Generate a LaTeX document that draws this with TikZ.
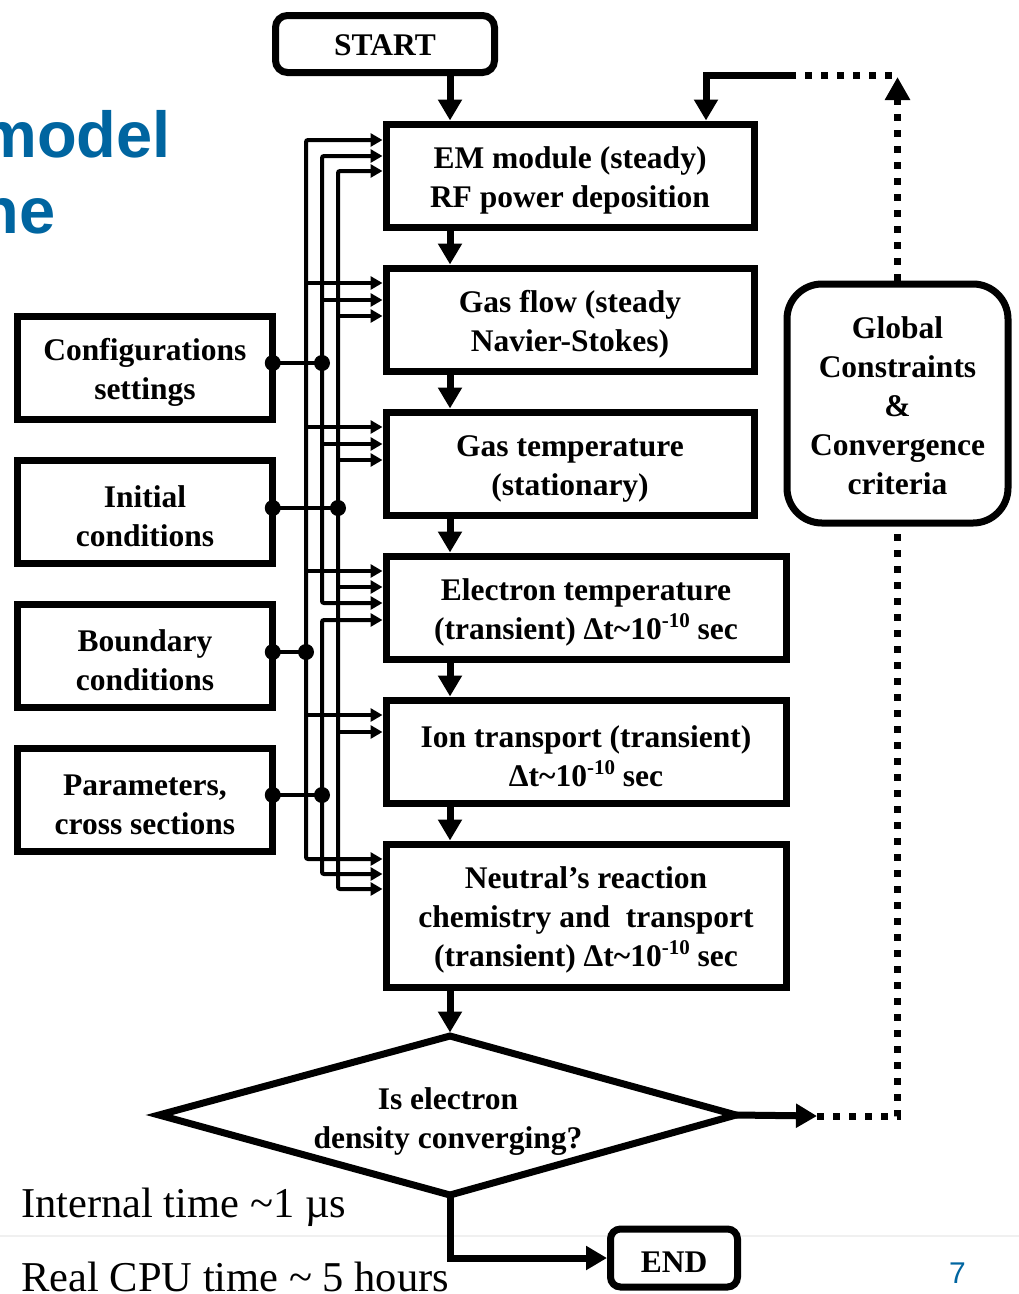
\documentclass[tikz,border=0pt]{standalone}
\usepackage{fontspec}
\setmainfont{Liberation Serif}
\newfontfamily\arialfont{Liberation Sans}
\usetikzlibrary{arrows.meta}
\definecolor{titleblue}{RGB}{0,101,160}
\newcommand\supten{\raisebox{12pt}{\fontsize{21}{21}\selectfont -10}}
\begin{document}
\begin{tikzpicture}[x=1pt,y=-1pt,
  boxfont/.style={font=\fontsize{31.5}{39}\selectfont\bfseries},
  txt/.style={boxfont,align=center,inner sep=0pt},
  box/.style={draw,line width=7pt,fill=white,inner sep=0pt},
  mainbox/.style={box,minimum width=368pt,minimum height=103pt},
  widebox/.style={box,minimum width=400pt,minimum height=103pt},
  lbox/.style={box,outer sep=0pt,minimum width=255.5pt,minimum height=103pt},
  flow/.style={line width=7pt,-{Triangle[length=21pt,width=23pt]}},
  dotline/.style={line width=7pt,dash pattern=on 7pt off 9pt},
  bus/.style={line width=4pt,rounded corners=2pt},
  busarr/.style={bus,-{Triangle[length=12pt,width=13pt]}},
  bustwo/.style={bus,{Triangle[length=12pt,width=13pt]}-{Triangle[length=12pt,width=13pt]}},
  dotn/.style={circle,fill,inner sep=0pt,minimum size=16pt}
]
\useasboundingbox (0,0) rectangle (1019,1294);
\clip (0,0) rectangle (1019,1294);

% faint slide separator
\draw[black!6,line width=2pt] (0,1236) -- (1019,1236);

% title fragments and page number
\node[anchor=base east,inner sep=0pt,text=titleblue,font=\arialfont\bfseries\fontsize{65}{65}\selectfont] (t1) at (171,157) {model};
\node[anchor=base east,inner sep=0pt,text=titleblue,font=\arialfont\bfseries\fontsize{65}{65}\selectfont] (t2) at (56,233) {ne};
\node[anchor=base,inner sep=0pt,text=titleblue,font=\arialfont\fontsize{30}{30}\selectfont] (pg) at (957.5,1283) {7};

% bottom texts
\node[anchor=base west,inner sep=0pt,font=\fontsize{42.5}{50}\selectfont] (it) at (21,1217) {Internal time \textasciitilde1 µs};
\node[anchor=base west,inner sep=0pt,font=\fontsize{42.5}{50}\selectfont] (rc) at (21,1291) {Real CPU time \textasciitilde{} 5 hours};

% main column
\node[box,rounded corners=12pt,minimum width=219pt,minimum height=57pt] (start) at (385,44) {};
\node[txt] (starttx) at ([yshift=-1pt]start.center) {START};
\node[mainbox] (em) at (570,175.5) {};
\node[txt] (emtx) at ([yshift=-5pt]em.center) {EM module (steady)\\RF power deposition};
\node[mainbox] (gf) at (570,319.5) {};
\node[txt] (gftx) at ([yshift=-5pt]gf.center) {Gas flow (steady\\Navier-Stokes)};
\node[mainbox] (gt) at (570,463.5) {};
\node[txt] (gttx) at ([yshift=-5pt]gt.center) {Gas temperature\\(stationary)};
\node[widebox] (el) at (586,607.5) {};
\node[txt] (eltx) at ([yshift=-5pt]el.center) {Electron temperature\\(transient) Δt\textasciitilde10\supten{} sec};
\node[widebox] (ion) at (586,751.5) {};
\node[txt] (iontx) at ([yshift=-5pt]ion.center) {Ion transport (transient)\\Δt\textasciitilde10\supten{} sec};
\node[widebox,minimum height=143pt] (neu) at (586,915.5) {};
\node[txt] (neutx) at ([yshift=-4.5pt]neu.center) {Neutral’s reaction\\chemistry and\ \ transport\\(transient) Δt\textasciitilde10\supten{} sec};
\node[box,rounded corners=35pt,minimum width=221pt,minimum height=239pt] (glob) at (897.5,403.5) {};
\node[txt] (globtx) at ([yshift=-2pt]glob.center) {Global\\Constraints\\\&\\Convergence\\criteria};
\node[box,rounded corners=10pt,minimum width=127pt,minimum height=58pt] (end) at (674,1258) {};
\node[txt] (endtx) at ([yshift=-4pt]end.center) {END};

% left input boxes
\node[lbox] (cfg) at (145,367.5) {};
\node[txt] (cfgtx) at ([yshift=-5pt]cfg.center) {Configurations\\settings};
\node[lbox] (init) at (145,511.5) {};
\node[txt] (inittx) at ([yshift=-5pt]init.center) {Initial\\conditions};
\node[lbox] (bnd) at (145,655.5) {};
\node[txt] (bndtx) at ([yshift=-5pt]bnd.center) {Boundary\\conditions};
\node[lbox] (par) at (145,799.5) {};
\node[txt] (partx) at ([yshift=-5pt]par.center) {Parameters,\\cross sections};

% decision diamond
\coordinate (dT) at (450,1036);
\coordinate (dL) at (159,1115);
\coordinate (dR) at (736,1115);
\coordinate (dB) at (450,1195);
\draw[line width=7pt,fill=white] (dT) -- (dR) -- (dB) -- (dL) -- cycle;
\node[txt] (dq) at (448,1122) {Is electron\\density converging?};

% main flow
\coordinate (fx) at (450,0);
\draw[flow] (start.south -| fx) -- (em.north -| fx);
\draw[flow] (em.south -| fx) -- (gf.north -| fx);
\draw[flow] (gf.south -| fx) -- (gt.north -| fx);
\draw[flow] (gt.south -| fx) -- (el.north -| fx);
\draw[flow] (el.south -| fx) -- (ion.north -| fx);
\draw[flow] (ion.south -| fx) -- (neu.north -| fx);
\draw[flow,shorten >=3.5pt] (neu.south -| fx) -- (dT);
\draw[flow] (dB) |- (end.west);

% feedback loop
\coordinate (rt) at (817,1116);
\draw[flow] (dR) -- (rt);
\draw[dotline] (rt) -| (glob.south);
\coordinate (tp) at (897.5,77);
\draw[dotline,-{Triangle[length=23pt,width=24pt]}] (glob.north) -- (tp);
\coordinate (tl) at (892,75);
\coordinate (tm) at (793,75);
\coordinate (tk) at (706,75);
\draw[dotline] (tl) -- (tm);
\draw[flow] (tm) -- (tk) -- (em.north -| tk);

% bus lines
\coordinate (bA) at (306,0);
\coordinate (bB) at (322,0);
\coordinate (bC) at (338,0);
\draw[bustwo] (em.west |- 0,140) -| (bA |- 0,500) |- (neu.west |- 0,859);
\draw[bustwo] (em.west |- 0,156) -| (bB |- 0,400) |- (el.west |- 0,603);
\draw[bustwo] (el.west |- 0,620) -| (bB |- 0,700) |- (neu.west |- 0,874);
\draw[bustwo] (em.west |- 0,171) -| (bC |- 0,500) |- (neu.west |- 0,889);

\draw[busarr] (bA |- 0,283) -- (gf.west |- 0,283);
\draw[busarr] (bB |- 0,300) -- (gf.west |- 0,300);
\draw[busarr] (bC |- 0,316) -- (gf.west |- 0,316);
\draw[busarr] (bA |- 0,427) -- (gt.west |- 0,427);
\draw[busarr] (bB |- 0,444) -- (gt.west |- 0,444);
\draw[busarr] (bC |- 0,460) -- (gt.west |- 0,460);
\draw[busarr] (bA |- 0,571) -- (el.west |- 0,571);
\draw[busarr] (bC |- 0,587) -- (el.west |- 0,587);
\draw[busarr] (bA |- 0,715) -- (ion.west |- 0,715);
\draw[busarr] (bC |- 0,732) -- (ion.west |- 0,732);

% input taps
\node[dotn] (c1) at (cfg.east |- 0,363) {};
\node[dotn] (c2) at (bB |- 0,363) {};
\draw[bus] (c1.center) -- (c2.center);
\node[dotn] (i1) at (init.east |- 0,508) {};
\node[dotn] (i2) at (bC |- 0,508) {};
\draw[bus] (i1.center) -- (i2.center);
\node[dotn] (n1) at (bnd.east |- 0,652) {};
\node[dotn] (n2) at (bA |- 0,652) {};
\draw[bus] (n1.center) -- (n2.center);
\node[dotn] (p1) at (par.east |- 0,795) {};
\node[dotn] (p2) at (bB |- 0,795) {};
\draw[bus] (p1.center) -- (p2.center);
\end{tikzpicture}
\end{document}
